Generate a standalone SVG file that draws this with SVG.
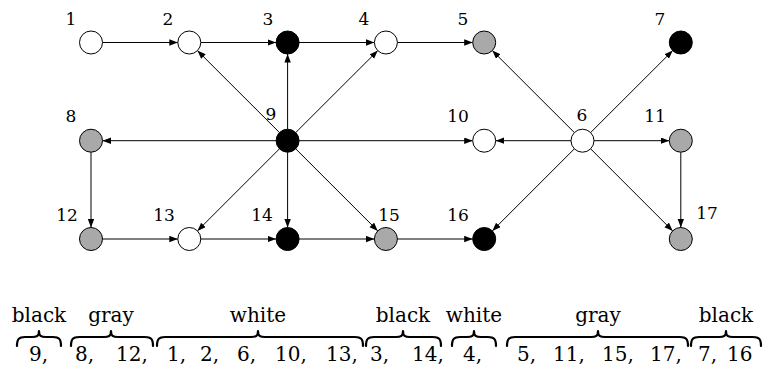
<svg xmlns="http://www.w3.org/2000/svg" width="763" height="369" viewBox="0 0 763 369">
<style>
.n{stroke:#000;stroke-width:1}
.w{fill:#fff}.g{fill:#a9a9a9}.b{fill:#000}
.lbl{font-size:17px;text-anchor:middle}
.big{font-size:20px}
.c{text-anchor:middle}
.e line{stroke:#000;stroke-width:1;marker-end:url(#ah)}
.br{fill:none;stroke:#000;stroke-width:2.2;stroke-linecap:round;stroke-linejoin:round}
</style>
<defs>
<marker id="ah" markerUnits="userSpaceOnUse" markerWidth="9" markerHeight="7" refX="8.5" refY="3.2" orient="auto">
<path d="M0,0 L8.5,3.2 L0,6.4 z" fill="#000"/>
</marker>
</defs>
<rect width="763" height="369" fill="#fff"/>
<g id="connectors" class="e">
<line x1="102.5" y1="42.5" x2="177.8" y2="42.5"/>
<line x1="200.8" y1="42.5" x2="276.1" y2="42.5"/>
<line x1="299.1" y1="42.5" x2="374.4" y2="42.5"/>
<line x1="397.4" y1="42.5" x2="472.7" y2="42.5"/>
<line x1="102.5" y1="239" x2="177.8" y2="239"/>
<line x1="200.8" y1="239" x2="276.1" y2="239"/>
<line x1="299.1" y1="239" x2="374.4" y2="239"/>
<line x1="397.4" y1="239" x2="472.7" y2="239"/>
<line x1="276.1" y1="140.7" x2="102.5" y2="140.7"/>
<line x1="299.1" y1="140.7" x2="472.7" y2="140.7"/>
<line x1="571" y1="140.7" x2="495.7" y2="140.7"/>
<line x1="594" y1="140.7" x2="669.3" y2="140.7"/>
<line x1="287.6" y1="129.2" x2="287.6" y2="54"/>
<line x1="287.6" y1="152.2" x2="287.6" y2="227.5"/>
<line x1="91" y1="152.2" x2="91" y2="227.5"/>
<line x1="680.8" y1="152.2" x2="680.8" y2="227.5"/>
<line x1="279.5" y1="132.6" x2="197.4" y2="50.6"/>
<line x1="295.7" y1="132.6" x2="377.8" y2="50.6"/>
<line x1="279.5" y1="148.8" x2="197.4" y2="230.9"/>
<line x1="295.7" y1="148.8" x2="377.8" y2="230.9"/>
<line x1="574.4" y1="132.6" x2="492.3" y2="50.6"/>
<line x1="590.6" y1="132.6" x2="672.7" y2="50.6"/>
<line x1="574.4" y1="148.8" x2="492.3" y2="230.9"/>
<line x1="590.6" y1="148.8" x2="672.7" y2="230.9"/>
</g>
<g font-family="'DejaVu Serif', 'Liberation Serif', serif" fill="#000">
<g id="node1"><circle class="n w" cx="91" cy="42.5" r="11.5"/><text class="lbl" x="71" y="25">1</text></g>
<g id="node2"><circle class="n w" cx="189.3" cy="42.5" r="11.5"/><text class="lbl" x="168" y="25">2</text></g>
<g id="node3"><circle class="n b" cx="287.6" cy="42.5" r="11.5"/><text class="lbl" x="268" y="25">3</text></g>
<g id="node4"><circle class="n w" cx="385.9" cy="42.5" r="11.5"/><text class="lbl" x="364" y="25">4</text></g>
<g id="node5"><circle class="n g" cx="484.2" cy="42.5" r="11.5"/><text class="lbl" x="463" y="25">5</text></g>
<g id="node7"><circle class="n b" cx="680.8" cy="42.5" r="11.5"/><text class="lbl" x="660" y="25">7</text></g>
<g id="node8"><circle class="n g" cx="91" cy="140.7" r="11.5"/><text class="lbl" x="71" y="122">8</text></g>
<g id="node9"><circle class="n b" cx="287.6" cy="140.7" r="11.5"/><text class="lbl" x="271" y="120">9</text></g>
<g id="node10"><circle class="n w" cx="484.2" cy="140.7" r="11.5"/><text class="lbl" x="458" y="122">10</text></g>
<g id="node6"><circle class="n w" cx="582.5" cy="140.7" r="11.5"/><text class="lbl" x="582" y="121">6</text></g>
<g id="node11"><circle class="n g" cx="680.8" cy="140.7" r="11.5"/><text class="lbl" x="655" y="122">11</text></g>
<g id="node12"><circle class="n g" cx="91" cy="239" r="11.5"/><text class="lbl" x="67" y="221">12</text></g>
<g id="node13"><circle class="n w" cx="189.3" cy="239" r="11.5"/><text class="lbl" x="164" y="221">13</text></g>
<g id="node14"><circle class="n b" cx="287.6" cy="239" r="11.5"/><text class="lbl" x="262" y="221">14</text></g>
<g id="node15"><circle class="n g" cx="385.9" cy="239" r="11.5"/><text class="lbl" x="389" y="221">15</text></g>
<g id="node16"><circle class="n b" cx="484.2" cy="239" r="11.5"/><text class="lbl" x="458" y="221">16</text></g>
<g id="node17"><circle class="n g" cx="680.8" cy="239" r="11.5"/><text class="lbl" x="707" y="219">17</text></g>
<g id="legend">
<path class="br" d="M17,346 C17,339 19,337 25,337 L32,337 C37,337 39,336 39,331 C39,336 41,337 46,337 L53,337 C59,337 61,339 61,346"/>
<path class="br" d="M71,346 C71,339 73,337 79,337 L104,337 C109,337 111,336 111,331 C111,336 113,337 118,337 L145,337 C151,337 153,339 153,346"/>
<path class="br" d="M157,346 C157,339 159,337 165,337 L251,337 C256,337 258,336 258,331 C258,336 260,337 265,337 L355,337 C361,337 363,339 363,346"/>
<path class="br" d="M366,346 C366,339 368,337 374,337 L396,337 C401,337 403,336 403,331 C403,336 405,337 410,337 L433,337 C439,337 441,339 441,346"/>
<path class="br" d="M452,346 C452,339 454,337 460,337 L467,337 C472,337 474,336 474,331 C474,336 476,337 481,337 L488,337 C494,337 496,339 496,346"/>
<path class="br" d="M507,346 C507,339 509,337 515,337 L591,337 C596,337 598,336 598,331 C598,336 600,337 605,337 L680,337 C686,337 688,339 688,346"/>
<path class="br" d="M691,346 C691,339 693,337 699,337 L719,337 C724,337 726,336 726,331 C726,336 728,337 733,337 L753,337 C759,337 761,339 761,346"/>
<text class="big c" x="39" y="322">black</text>
<text class="big c" x="111" y="322">gray</text>
<text class="big c" x="258" y="322">white</text>
<text class="big c" x="403" y="322">black</text>
<text class="big c" x="474" y="322">white</text>
<text class="big c" x="598" y="322">gray</text>
<text class="big c" x="726" y="322">black</text>
<text class="big" x="29" y="361">9,</text>
<text class="big" x="75" y="361">8,</text>
<text class="big" x="116" y="361">12,</text>
<text class="big" x="167" y="361">1,</text>
<text class="big" x="200" y="361">2,</text>
<text class="big" x="237" y="361">6,</text>
<text class="big" x="275" y="361">10,</text>
<text class="big" x="326" y="361">13,</text>
<text class="big" x="370" y="361">3,</text>
<text class="big" x="412" y="361">14,</text>
<text class="big" x="463" y="361">4,</text>
<text class="big" x="517" y="361">5,</text>
<text class="big" x="553" y="361">11,</text>
<text class="big" x="602" y="361">15,</text>
<text class="big" x="650" y="361">17,</text>
<text class="big" x="698" y="361">7,</text>
<text class="big" x="727" y="361">16</text>
</g>
</g>
</svg>
